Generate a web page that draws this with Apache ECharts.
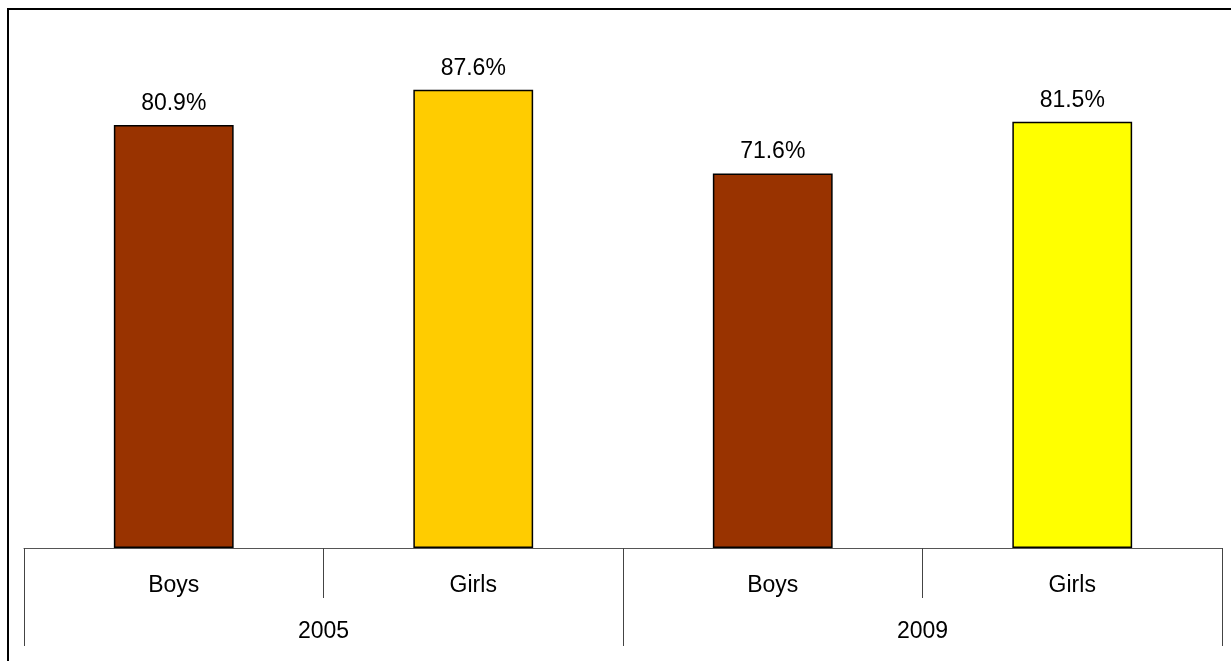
<!DOCTYPE html>
<html>
<head>
<meta charset="utf-8">
<title>Boys / Girls 2005-2009</title>
<script src="https://cdn.jsdelivr.net/npm/echarts@6/dist/echarts.min.js"></script>
<style>
  html, body { margin: 0; padding: 0; background: #fff; }
  #main { width: 1231px; height: 661px; }
</style>
</head>
<body>
<div id="main"></div>
<script>
// data
var genders = ['Boys', 'Girls', 'Boys', 'Girls'];
var years = ['2005', '2009'];
var values = [80.9, 87.6, 71.6, 81.5];

// bar colours, one per bar
var barColors = ['#993300', '#FFCC00', '#993300', '#FFFF00'];

var font = 'Liberation Sans, Arial, sans-serif';
var chart = echarts.init(document.getElementById('main'));

var option = {
  backgroundColor: '#fff',
  animation: false,
  grid: {
    left: 24,
    right: 9,
    top: 25,
    bottom: 113
  },
  graphic: [
    {
      // frame round the chart (left and top edges visible)
      type: 'rect',
      shape: { x: 8, y: 9, width: 1400, height: 800 },
      style: { fill: 'none', stroke: '#000', lineWidth: 2 },
      silent: true
    }
  ],
  xAxis: [
    {
      type: 'category',
      data: genders,
      position: 'bottom',
      axisLine: { show: true, lineStyle: { color: '#555', width: 1 } },
      axisTick: { show: true, interval: 0, length: 50, lineStyle: { color: '#444' } },
      axisLabel: { interval: 0, margin: 26, color: '#000', fontSize: 23, fontFamily: font }
    },
    {
      type: 'category',
      data: years,
      position: 'bottom',
      axisLine: { show: false },
      axisTick: { show: true, interval: 0, length: 98, lineStyle: { color: '#444' } },
      axisLabel: { interval: 0, margin: 72, color: '#000', fontSize: 23, fontFamily: font }
    }
  ],
  yAxis: {
    type: 'value',
    min: 0,
    max: 100,
    show: false,
    splitLine: { show: false }
  },
  series: [
    {
      type: 'bar',
      xAxisIndex: 0,
      barWidth: '40%',
      data: values.map(function (v, i) {
        return {
          value: v,
          itemStyle: { color: barColors[i], borderColor: '#000', borderWidth: 1.5 }
        };
      }),
      label: {
        show: true,
        position: 'top',
        distance: 10,
        color: '#000',
        fontSize: 23,
        fontFamily: font,
        formatter: function (p) { return p.value.toFixed(1) + '%'; }
      }
    }
  ]
};

chart.setOption(option);
</script>
</body>
</html>
